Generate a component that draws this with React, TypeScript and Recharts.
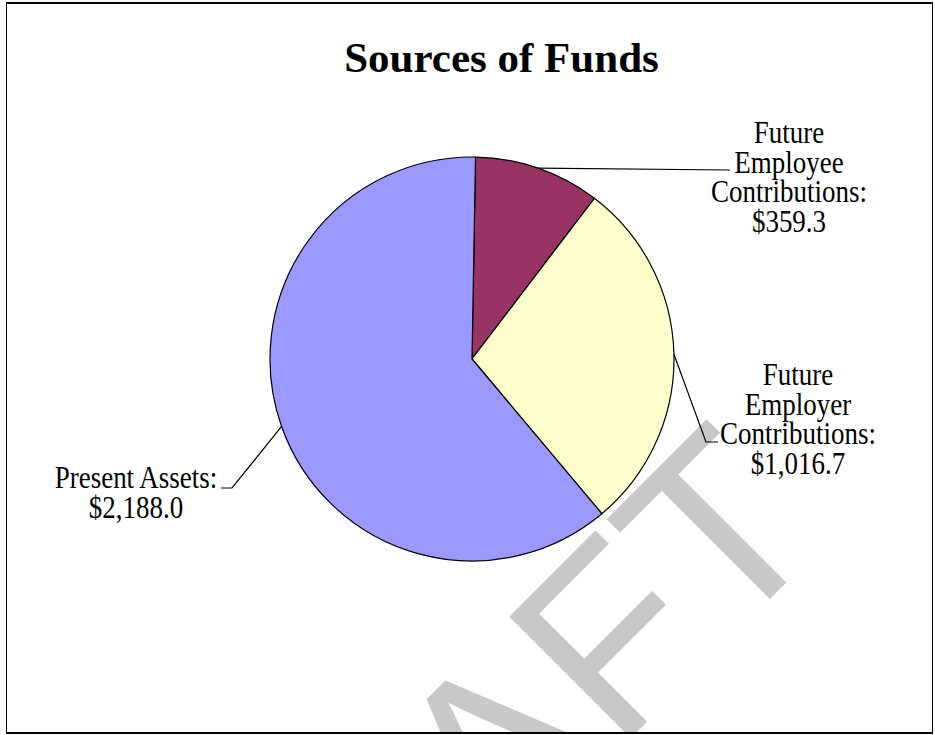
import { PieChart, Pie, Cell } from 'recharts'

const categories = ['Future Employee Contributions', 'Future Employer Contributions', 'Present Assets']
const amounts = [359.3, 1016.7, 2188.0]
const sliceColors = ['#993366', '#FFFFCC', '#9999FF']

const data = categories.map((name, i) => ({ name, value: amounts[i] }))

const W = 935
const H = 735
const SERIF = "'Liberation Serif', 'Times New Roman', Times, serif"
const SANS = "'Liberation Sans', Arial, Helvetica, sans-serif"

// leader line bend points, text centre x, first baseline, one word per line or not
const labelLayout = [
  { path: [[730, 170]], x: 789, y: 143, stack: true },
  { path: [[706, 442], [718, 442]], x: 798, y: 385, stack: true },
  { path: [[232, 488], [221, 488]], x: 136, y: 488, stack: false },
]
const LINE_GAP = 29.5

const money = (v: number) => '$' + v.toLocaleString('en-US', { minimumFractionDigits: 1, maximumFractionDigits: 1 })

function SliceLabel(props: any) {
  const { cx, cy, midAngle, outerRadius, index } = props
  const rad = (-midAngle * Math.PI) / 180
  const x0 = cx + outerRadius * Math.cos(rad)
  const y0 = cy + outerRadius * Math.sin(rad)
  const lay = labelLayout[index]
  const pts = [[x0, y0], ...lay.path].map((p) => p.join(',')).join(' ')
  const words = lay.stack ? categories[index].split(' ') : [categories[index]]
  const lines = [...words.slice(0, -1), words[words.length - 1] + ':', money(amounts[index])]
  return (
    <g>
      <polyline points={pts} fill="none" stroke="#000" strokeWidth={1.2} />
      {lines.map((t, i) => (
        <text
          key={i}
          transform={`translate(${lay.x},${lay.y + i * LINE_GAP}) scale(0.87,1)`}
          textAnchor="middle"
          fontFamily={SERIF}
          fontSize={31}
          fill="#000"
        >
          {t}
        </text>
      ))}
    </g>
  )
}

export default function App() {
  return (
    <div style={{ position: 'absolute', left: 0, top: 0, width: W, height: H, background: '#fff', overflow: 'hidden' }}>
      <svg width={W} height={H} style={{ position: 'absolute', left: 0, top: 0 }}>
        <defs>
          <clipPath id="frameClip">
            <rect x={7} y={4} width={926} height={729} />
          </clipPath>
        </defs>
        <g clipPath="url(#frameClip)">
          <text x={243} y={1126} transform="rotate(-45 243 1126)" fontFamily={SANS} fontSize={250} fill="#C8C8C8">
            DRAFT
          </text>
        </g>
        <text x={501.5} y={72} textAnchor="middle" fontFamily={SERIF} fontWeight="bold" fontSize={43} fill="#000">
          Sources of Funds
        </text>
      </svg>
      <div
        style={{
          position: 'absolute',
          left: 6,
          top: 2,
          width: 927,
          height: 732,
          boxSizing: 'border-box',
          borderTop: '2px solid #000',
          borderBottom: '2px solid #000',
          borderLeft: '1.5px solid #000',
          borderRight: '1.5px solid #000',
        }}
      />
      <div style={{ position: 'absolute', left: 0, top: 0 }}>
        <PieChart width={W} height={H} margin={{ top: 0, right: 0, bottom: 0, left: 0 }}>
          <Pie
            data={data}
            dataKey="value"
            nameKey="name"
            cx={472}
            cy={359}
            outerRadius={202}
            startAngle={89}
            endAngle={-271}
            stroke="#000"
            strokeWidth={1.2}
            label={SliceLabel}
            labelLine={false}
            isAnimationActive={false}
          >
            {data.map((d, i) => (
              <Cell key={d.name} fill={sliceColors[i]} />
            ))}
          </Pie>
        </PieChart>
      </div>
    </div>
  )
}
